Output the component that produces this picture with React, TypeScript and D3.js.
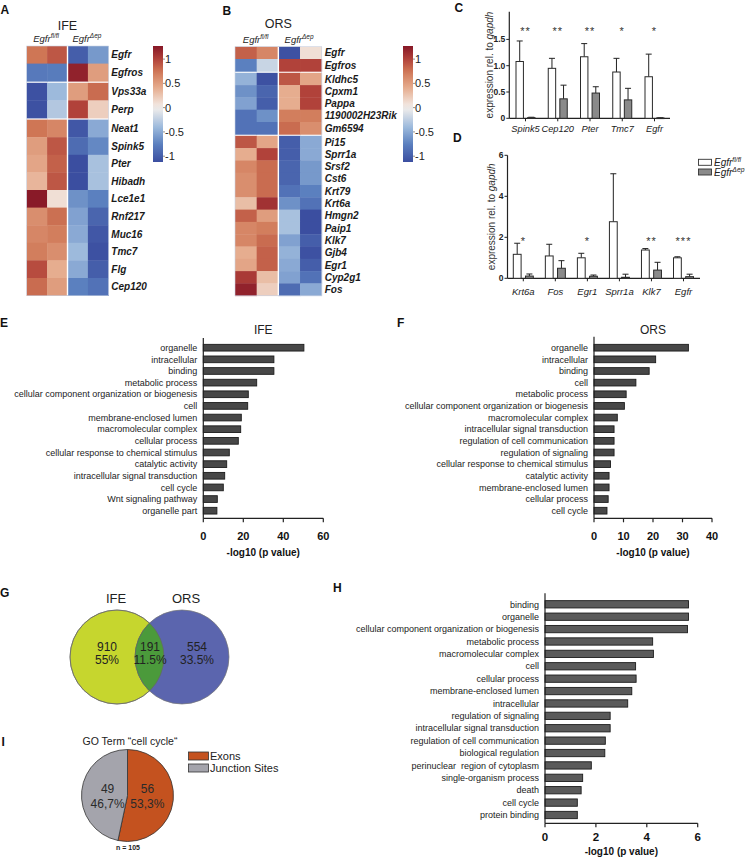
import React from 'react';
import * as d3 from 'd3';

const FONT = "'Liberation Sans', Arial, Helvetica, sans-serif";

// ---------- A: IFE heatmap ----------
const ifeGenes = ['Egfr', 'Egfros', 'Vps33a', 'Perp', 'Neat1', 'Spink5', 'Pter', 'Hibadh', 'Lce1e1', 'Rnf217', 'Muc16', 'Tmc7', 'Flg', 'Cep120'];
const ifeGroups = [2, 2, 10];
const ifeValues = [
  [0.75, 0.9, -1.0, -0.6],
  [-0.8, -0.78, 1.2, 0.5],
  [-1.1, -0.4, 0.5, 0.8],
  [-1.1, -0.3, 1.0, 0.2],
  [0.75, 0.65, -1.05, -0.5],
  [0.5, 0.9, -0.9, -0.7],
  [0.45, 0.85, -1.15, -0.35],
  [0.35, 0.9, -1.15, -0.35],
  [1.25, 0.1, -0.65, -0.75],
  [0.6, 0.78, -0.55, -0.95],
  [0.65, 0.7, -0.5, -1.05],
  [0.7, 0.6, -0.4, -1.1],
  [0.95, 0.4, -0.5, -1.0],
  [0.8, 0.5, -0.75, -0.85],
];

// ---------- B: ORS heatmap ----------
const orsGenes = ['Egfr', 'Egfros', 'Kldhc5', 'Cpxm1', 'Pappa', '1190002H23Rik', 'Gm6594', 'Pi15', 'Sprr1a', 'Srsf2', 'Cst6', 'Krt79', 'Krt6a', 'Hmgn2', 'Paip1', 'Klk7', 'Gjb4', 'Egr1', 'Cyp2g1', 'Fos'];
const orsGroups = [2, 5, 13];
const orsValues = [
  [0.85, 0.65, -1.1, 0.1],
  [-0.75, -0.2, 1.0, 1.0],
  [-0.45, -1.1, 0.9, 0.45],
  [-0.65, -0.95, 0.4, 1.0],
  [-0.55, -1.0, 0.4, 1.0],
  [-0.85, -0.65, 0.7, 0.7],
  [-0.85, -0.85, 0.8, 0.6],
  [0.9, 0.45, -1.0, -0.5],
  [0.4, 1.0, -1.0, -0.5],
  [0.65, 0.8, -0.95, -0.6],
  [0.6, 0.8, -0.95, -0.6],
  [0.6, 0.8, -0.85, -0.75],
  [0.3, 1.1, -0.65, -0.85],
  [0.85, 0.5, -0.35, -1.15],
  [0.65, 0.7, -0.35, -1.15],
  [0.65, 0.8, -0.55, -1.0],
  [0.4, 0.85, -0.45, -1.1],
  [0.45, 0.85, -0.5, -1.0],
  [1.05, 0.3, -0.55, -0.85],
  [1.2, 0.2, -0.9, -0.5],
];
const colorbarTicks = [1, 0.5, 0, -0.5, -1];

// ---------- C ----------
const cGenes = ['Spink5', 'Cep120', 'Pter', 'Tmc7', 'Egfr'];
const cCtrl = [1.08, 0.95, 1.17, 0.88, 0.79];
const cCtrlErr = [0.39, 0.19, 0.25, 0.26, 0.43];
const cKo = [0.012, 0.37, 0.48, 0.35, 0.006];
const cKoErr = [0.008, 0.26, 0.12, 0.22, 0.004];
const cStars = ['**', '**', '**', '*', '*'];
const cTicks = [0, 0.5, 1.0, 1.5];

// ---------- D ----------
const dGenes = ['Krt6a', 'Fos', 'Egr1', 'Sprr1a', 'Klk7', 'Egfr'];
const dCtrl = [1.17, 1.09, 1.0, 2.76, 1.38, 1.0];
const dCtrlErr = [0.54, 0.57, 0.22, 2.34, 0.07, 0.05];
const dKo = [0.11, 0.49, 0.1, 0.05, 0.4, 0.08];
const dKoErr = [0.1, 0.37, 0.06, 0.15, 0.38, 0.12];
const dStars = ['*', '', '*', '', '**', '***'];
const dTicks = [0, 2, 4, 6];

// ---------- E ----------
const eTerms = ['organelle', 'intracellular', 'binding', 'metabolic process', 'cellular component organization or biogenesis', 'cell', 'membrane-enclosed lumen', 'macromolecular complex', 'cellular process', 'cellular response to chemical stimulus', 'catalytic activity', 'intracellular signal transduction', 'cell cycle', 'Wnt signaling pathway', 'organelle part'];
const eValues = [50.3, 35.3, 35.3, 26.7, 22.5, 22.2, 19.0, 18.7, 17.5, 13.0, 11.7, 10.7, 10.0, 7.0, 6.8];
const eTicks = [0, 20, 40, 60];

// ---------- F ----------
const fTerms = ['organelle', 'intracellular', 'binding', 'cell', 'metabolic process', 'cellular component organization or biogenesis', 'macromolecular complex', 'intracellular signal transduction', 'regulation of cell communication', 'regulation of signaling', 'cellular response to chemical stimulus', 'catalytic activity', 'membrane-enclosed lumen', 'cellular process', 'cell cycle'];
const fValues = [32.0, 20.9, 18.7, 14.2, 10.9, 10.3, 7.9, 6.8, 6.8, 6.8, 5.6, 5.1, 5.1, 4.8, 4.4];
const fTicks = [0, 10, 20, 30, 40];

// ---------- H ----------
const hTerms = ['binding', 'organelle', 'cellular component organization or biogenesis', 'metabolic process', 'macromolecular complex', 'cell', 'cellular process', 'membrane-enclosed lumen', 'intracellular', 'regulation of signaling', 'intracellular signal transduction', 'regulation of cell communication', 'biological regulation', 'perinuclear  region of cytoplasm', 'single-organism process', 'death', 'cell cycle', 'protein binding'];
const hValues = [5.64, 5.64, 5.6, 4.23, 4.26, 3.56, 3.58, 3.41, 3.25, 2.56, 2.56, 2.37, 2.35, 1.82, 1.48, 1.42, 1.27, 1.27];
const hTicks = [0, 2, 4, 6];

// ---------- G ----------
const vennSets = ['IFE', 'ORS'];
const vennCounts = [910, 191, 554];
const vennPercents = ['55%', '11.5%', '33.5%'];

// ---------- I ----------
const pieLabels = ['Exons', 'Junction Sites'];
const pieCounts = [56, 49];
const piePercents = ['53,3%', '46,7%'];

// ---------- colours ----------
const heat = d3
  .scaleLinear<string>()
  .domain([-1.12, -0.75, -0.4, 0, 0.4, 0.75, 1.0, 1.27])
  .range(['#3b4ea0', '#5b80bf', '#9dbadc', '#f3efec', '#e6ad8f', '#cf7655', '#b1423a', '#861727'])
  .interpolate(d3.interpolateRgb)
  .clamp(true);

function Sup({ base, sup, x, y, size, anchor = 'middle', italic = true }: any) {
  return (
    <text x={x} y={y} fontSize={size} fontStyle={italic ? 'italic' : 'normal'} textAnchor={anchor} fill="#222">
      <tspan>{base}</tspan>
      <tspan dy={-size * 0.4} fontSize={size * 0.68}>{sup}</tspan>
    </text>
  );
}

function Heatmap({ id, genes, groups, values, x0, x1, top, rowH, gap, title, titleY, headerY, cbX, fontSize }: any) {
  const xs = d3.scaleBand<number>().domain(d3.range(4)).range([x0, x1]);
  const ys = d3.scaleBand<string>().domain(genes).range([top, top + genes.length * rowH]);
  const groupOf: number[] = [];
  groups.forEach((n: number, gi: number) => {
    for (let k = 0; k < n; k++) groupOf.push(gi);
  });
  const yOf = (g: string, i: number) => (ys(g) as number) + groupOf[i] * gap;
  const bottom = top + genes.length * rowH + (groups.length - 1) * gap;
  const cbTop = 46;
  const cbBottom = 162;
  const cbScale = d3.scaleLinear().domain([-1.12, 1.27]).range([cbBottom, cbTop]);
  const stops = d3.range(0, 1.0001, 0.05);
  const mid12 = ((xs(0) as number) + (xs(2) as number)) / 2;
  const mid34 = ((xs(2) as number) + x1) / 2;
  return (
    <g>
      <text x={(x0 + x1) / 2} y={titleY} fontSize={12.5} textAnchor="middle" fill="#222">{title}</text>
      <Sup base="Egfr" sup="fl/fl" x={mid12 - 1} y={headerY} size={9.5} />
      <Sup base="Egfr" sup="Δep" x={mid34 - 1} y={headerY} size={9.5} />
      {genes.map((g: string, i: number) =>
        values[i].map((v: number, j: number) => (
          <rect key={g + j} x={xs(j)} y={yOf(g, i)} width={xs.bandwidth() + 0.4} height={rowH + 0.4} fill={heat(v)} />
        ))
      )}
      <line x1={xs(2)} x2={xs(2)} y1={top} y2={bottom} stroke="#fff" strokeWidth={1.4} />
      <rect x={x0} y={top} width={x1 - x0} height={bottom - top} fill="none" stroke="#c9d3e3" strokeWidth={0.6} />
      {genes.map((g: string, i: number) => (
        <text key={g} x={x1 + 3} y={yOf(g, i) + rowH / 2 + fontSize * 0.36} fontSize={fontSize} fontWeight="bold" fontStyle="italic" fill="#1a1a1a">
          {g}
        </text>
      ))}
      <defs>
        <linearGradient id={id} x1="0" y1="1" x2="0" y2="0">
          {stops.map((t) => (
            <stop key={t} offset={t} stopColor={heat(-1.12 + t * (1.27 + 1.12))} />
          ))}
        </linearGradient>
      </defs>
      <rect x={cbX} y={cbTop} width={10} height={cbBottom - cbTop} fill={`url(#${id})`} />
      {colorbarTicks.map((t) => (
        <g key={t}>
          <line x1={cbX + 10} x2={cbX + 12} y1={cbScale(t)} y2={cbScale(t)} stroke="#444" strokeWidth={0.6} />
          <text x={cbX + 12} y={cbScale(t) + 4} fontSize={11} fill="#222">{t === 0 ? '0' : String(t)}</text>
        </g>
      ))}
    </g>
  );
}

function ExprChart({ genes, ctrl, ctrlErr, ko, koErr, stars, ticks, fmt, yMax, axisX, axisEnd, firstC, lastC, y0, yMaxPx, axisTop, half, starY, labelY, ylabelX, labelSize }: any) {
  const x = d3.scalePoint<string>().domain(genes).range([firstC, lastC]);
  const inner = d3.scaleBand<string>().domain(['c', 'k']).range([-half, half]).paddingInner(0.36);
  const y = d3.scaleLinear().domain([0, yMax]).range([y0, yMaxPx]);
  const bw = inner.bandwidth();
  const bar = (g: string, key: string, v: number, e: number, fill: string) => {
    const bx = (x(g) as number) + (inner(key) as number);
    const cx = bx + bw / 2;
    return (
      <g key={g + key}>
        <line x1={cx} x2={cx} y1={y(v)} y2={y(v + e)} stroke="#222" strokeWidth={1} />
        <line x1={cx - 3} x2={cx + 3} y1={y(v + e)} y2={y(v + e)} stroke="#222" strokeWidth={1} />
        <rect x={bx} y={y(v)} width={bw} height={Math.max(0.6, y0 - y(v))} fill={fill} stroke="#2a2a2a" strokeWidth={1} />
      </g>
    );
  };
  return (
    <g>
      <line x1={axisX} x2={axisX} y1={axisTop} y2={y0} stroke="#222" strokeWidth={1.2} />
      <line x1={axisX} x2={axisEnd} y1={y0} y2={y0} stroke="#222" strokeWidth={1.2} />
      {ticks.map((t: number) => (
        <g key={t}>
          <line x1={axisX - 3} x2={axisX} y1={y(t)} y2={y(t)} stroke="#222" strokeWidth={1} />
          <text x={axisX - 4} y={y(t) + 3} fontSize={8.5} fontWeight="bold" textAnchor="end" fill="#222">{fmt(t)}</text>
        </g>
      ))}
      {genes.map((g: string, i: number) => (
        <g key={g}>
          {bar(g, 'c', ctrl[i], ctrlErr[i], '#ffffff')}
          {bar(g, 'k', ko[i], koErr[i], '#8a8a8a')}
          <line x1={x(g)} x2={x(g)} y1={y0} y2={y0 + 3} stroke="#222" strokeWidth={1} />
          <text x={x(g)} y={labelY} fontSize={labelSize} fontStyle="italic" textAnchor="middle" fill="#222">{g}</text>
          {stars[i] && (
            <text x={x(g)} y={starY} fontSize={11} textAnchor="middle" fill="#333" letterSpacing={1}>{stars[i]}</text>
          )}
        </g>
      ))}
      <text transform={`translate(${ylabelX},${(axisTop + y0) / 2}) rotate(-90)`} fontSize={10} textAnchor="middle" fill="#333">
        expression rel. to <tspan fontStyle="italic">gapdh</tspan>
      </text>
    </g>
  );
}

function GoBars({ terms, values, ticks, axisX, axisEnd, firstC, lastC, axisTop, axisY, barH, fill, tickSize, tickY, titleY, title, titleYpos }: any) {
  const x = d3.scaleLinear().domain([0, ticks[ticks.length - 1]]).range([axisX, axisEnd]);
  const y = d3.scalePoint<string>().domain(terms).range([firstC, lastC]);
  return (
    <g>
      {title && (
        <text x={(axisX + axisEnd) / 2} y={titleYpos} fontSize={12} textAnchor="middle" fill="#222">{title}</text>
      )}
      {terms.map((t: string, i: number) => (
        <g key={t + i}>
          <rect x={axisX} y={(y(t) as number) - barH / 2} width={x(values[i]) - axisX} height={barH} fill={fill} stroke="#1c1c1c" strokeWidth={0.9} />
          <text x={axisX - 6} y={(y(t) as number) + 3.2} fontSize={9} textAnchor="end" fill="#222" style={{ whiteSpace: 'pre' }}>{t}</text>
        </g>
      ))}
      <line x1={axisX} x2={axisX} y1={axisTop} y2={axisY} stroke="#222" strokeWidth={1.2} />
      <line x1={axisX} x2={axisEnd} y1={axisY} y2={axisY} stroke="#222" strokeWidth={1.2} />
      {ticks.map((t: number) => (
        <g key={t}>
          <line x1={x(t)} x2={x(t)} y1={axisY} y2={axisY + 4} stroke="#222" strokeWidth={1.2} />
          <text x={x(t)} y={tickY} fontSize={tickSize} fontWeight="bold" textAnchor="middle" fill="#111">{t}</text>
        </g>
      ))}
      <text x={(axisX + axisEnd) / 2} y={titleY} fontSize={10} fontWeight="bold" textAnchor="middle" fill="#111">-log10 (p value)</text>
    </g>
  );
}

function Venn() {
  const cxs = [117, 182];
  const cy = 657;
  const r = 47;
  const fills = ['#c6d62e', '#5b65ae'];
  const textX = [107, 150, 197];
  return (
    <g>
      <defs>
        <clipPath id="leftClip">
          <circle cx={cxs[0]} cy={cy} r={r} />
        </clipPath>
      </defs>
      <circle cx={cxs[0]} cy={cy} r={r} fill={fills[0]} stroke="#777" strokeWidth={0.7} />
      <circle cx={cxs[1]} cy={cy} r={r} fill={fills[1]} stroke="#777" strokeWidth={0.7} />
      <circle cx={cxs[1]} cy={cy} r={r} fill="#4b9a3b" stroke="#666" strokeWidth={0.7} clipPath="url(#leftClip)" />
      <circle cx={cxs[0]} cy={cy} r={r} fill="none" stroke="#666" strokeWidth={0.7} />
      {vennSets.map((s, i) => (
        <text key={s} x={[116, 186][i]} y={602.5} fontSize={13} textAnchor="middle" fill="#222">{s}</text>
      ))}
      {vennCounts.map((c, i) => (
        <g key={c}>
          <text x={textX[i]} y={651} fontSize={12} textAnchor="middle" fill="#222">{c}</text>
          <text x={textX[i]} y={664} fontSize={12} textAnchor="middle" fill="#222">{vennPercents[i]}</text>
        </g>
      ))}
    </g>
  );
}

function Pie() {
  const cx = 127.5;
  const cy = 795.5;
  const r = 46;
  const colors = ['#c4521f', '#a4a4ac'];
  const arcs = d3.pie<number>().sort(null)(pieCounts);
  const arc = d3.arc<d3.PieArcDatum<number>>().innerRadius(0).outerRadius(r);
  const labelArc = d3.arc<d3.PieArcDatum<number>>().innerRadius(20).outerRadius(20);
  return (
    <g>
      <text x={130} y={744.5} fontSize={10.5} textAnchor="middle" fill="#222">GO Term “cell cycle“</text>
      <g transform={`translate(${cx},${cy})`}>
        {arcs.map((a, i) => (
          <path key={i} d={arc(a) as string} fill={colors[i]} stroke="#333" strokeWidth={0.8} />
        ))}
        {arcs.map((a, i) => {
          const [lx] = labelArc.centroid(a);
          return (
            <g key={'t' + i}>
              <text x={lx} y={-3} fontSize={12} textAnchor="middle" fill="#2a2a2a">{pieCounts[i]}</text>
              <text x={lx} y={12.5} fontSize={12} textAnchor="middle" fill="#2a2a2a">{piePercents[i]}</text>
            </g>
          );
        })}
      </g>
      {pieLabels.map((l, i) => (
        <g key={l}>
          <rect x={188.5} y={752 + i * 12} width={20} height={8} fill={colors[i]} stroke="#333" strokeWidth={0.8} />
          <text x={210} y={760 + i * 12} fontSize={11} fill="#222">{l}</text>
        </g>
      ))}
      <text x={128} y={850} fontSize={7} fontWeight="bold" textAnchor="middle" fill="#222">n = 105</text>
    </g>
  );
}

export default function App() {
  const letter = (t: string, x: number, y: number) => (
    <text x={x} y={y} fontSize={12} fontWeight="bold" fill="#111">{t}</text>
  );
  return (
    <svg width={746} height={857} style={{ position: 'absolute', left: 0, top: 0, background: '#fff' }} fontFamily={FONT}>
      <rect width={746} height={857} fill="#fff" />
      {letter('A', 0.5, 14)}
      {letter('B', 222.5, 15)}
      {letter('C', 454.5, 12)}
      {letter('D', 453, 142)}
      {letter('E', 0, 327)}
      {letter('F', 397, 327)}
      {letter('G', 0, 597)}
      {letter('H', 333, 592)}
      {letter('I', 1.5, 746)}

      <Heatmap id="cbA" genes={ifeGenes} groups={ifeGroups} values={ifeValues} x0={26.7} x1={108.3} top={46} rowH={17.6} gap={1.6}
        title="IFE" titleY={29.5} headerY={42} cbX={153} fontSize={10} />
      <Heatmap id="cbB" genes={orsGenes} groups={orsGroups} values={orsValues} x0={235} x1={321.7} top={46.7} rowH={12.3} gap={1.5}
        title="ORS" titleY={27.5} headerY={43} cbX={403} fontSize={10} />

      <ExprChart genes={cGenes} ctrl={cCtrl} ctrlErr={cCtrlErr} ko={cKo} koErr={cKoErr} stars={cStars} ticks={cTicks}
        fmt={(t: number) => (t === 0 ? '0' : t.toFixed(1))} yMax={2.0} axisX={509.3} axisEnd={670} firstC={525.5} lastC={654.5}
        y0={118.3} yMaxPx={13.1} axisTop={11.7} half={9.5} starY={35} labelY={131.5} ylabelX={493} labelSize={9.3} />
      <ExprChart genes={dGenes} ctrl={dCtrl} ctrlErr={dCtrlErr} ko={dKo} koErr={dKoErr} stars={dStars} ticks={dTicks}
        fmt={(t: number) => String(t)} yMax={6} axisX={507.5} axisEnd={700} firstC={523.3} lastC={683.5}
        y0={278.3} yMaxPx={155.3} axisTop={155.3} half={10} starY={245} labelY={294.5} ylabelX={495} labelSize={9.5} />
      <g>
        <rect x={698.5} y={159.3} width={13} height={6} fill="#fff" stroke="#333" strokeWidth={0.9} />
        <rect x={698.5} y={169} width={13} height={6} fill="#8a8a8a" stroke="#333" strokeWidth={0.9} />
        <Sup base="Egfr" sup="fl/fl" x={714} y={165.8} size={10} anchor="start" />
        <Sup base="Egfr" sup="Δep" x={714} y={175.5} size={10} anchor="start" />
      </g>

      <GoBars terms={eTerms} values={eValues} ticks={eTicks} axisX={203.3} axisEnd={323.3} firstC={347.7} lastC={510.7}
        axisTop={338} axisY={518.3} barH={6.7} fill="#474747" tickSize={11} tickY={539.5} titleY={555.5} title="IFE" titleYpos={334} />
      <GoBars terms={fTerms} values={fValues} ticks={fTicks} axisX={594} axisEnd={712} firstC={347.7} lastC={510.7}
        axisTop={336.7} axisY={518.3} barH={6.7} fill="#474747" tickSize={11} tickY={539.5} titleY={555.5} title="ORS" titleYpos={334} />
      <GoBars terms={hTerms} values={hValues} ticks={hTicks} axisX={545} axisEnd={697.7} firstC={604.3} lastC={815}
        axisTop={593.3} axisY={823.3} barH={7.3} fill="#5a5a5a" tickSize={11.5} tickY={841} titleY={855} title="" titleYpos={0} />

      <Venn />
      <Pie />
    </svg>
  );
}
